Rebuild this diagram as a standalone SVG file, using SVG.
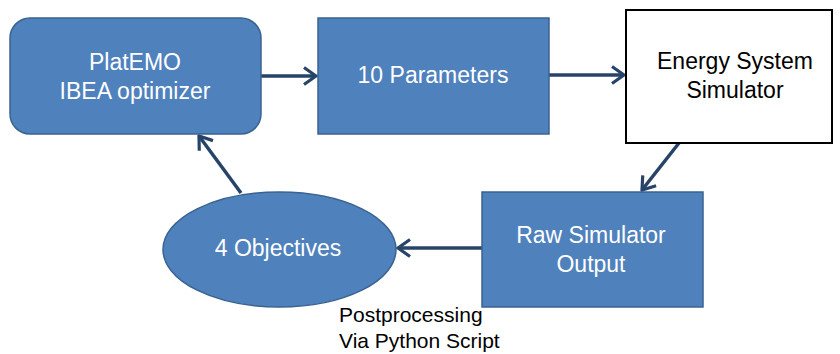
<svg xmlns="http://www.w3.org/2000/svg" width="840" height="354" viewBox="0 0 840 354">
  <style>
    .node { fill: #4F81BD; stroke: #3A6390; stroke-width: 1.5; }
    .plain { fill: #FFFFFF; stroke: #000000; stroke-width: 2; }
    .wt { font-family: "Liberation Sans", Arial, sans-serif; font-size: 23px; fill: #FFFFFF; text-anchor: middle; }
    .bt { font-family: "Liberation Sans", Arial, sans-serif; font-size: 23px; fill: #000000; text-anchor: middle; }
    .note { font-family: "Liberation Sans", Arial, sans-serif; font-size: 21px; fill: #000000; }
    .link { fill: none; stroke: #274468; stroke-width: 3.5; marker-end: url(#head); }
  </style>
  <defs>
    <marker id="head" viewBox="0 0 16 20" refX="14" refY="10" markerWidth="16" markerHeight="20" markerUnits="userSpaceOnUse" orient="auto">
      <path d="M2,1.5 L14,10 L2,18.5" fill="none" stroke="#274468" stroke-width="3.2" stroke-linejoin="miter"/>
    </marker>
  </defs>
  <rect width="840" height="354" fill="#FFFFFF"/>

  <g id="connectors">
    <line class="link" x1="261" y1="76" x2="316" y2="76"/>
    <line class="link" x1="549" y1="75" x2="624" y2="75"/>
    <line class="link" x1="679" y1="143" x2="642" y2="190"/>
    <line class="link" x1="482" y1="248" x2="398" y2="248"/>
    <line class="link" x1="241" y1="193" x2="199" y2="136"/>
  </g>

  <g id="optimizer">
    <rect class="node" x="10" y="18" width="251" height="116" rx="20" ry="20"/>
    <text class="wt" x="135" y="70">PlatEMO</text>
    <text class="wt" x="135" y="99">IBEA optimizer</text>
  </g>

  <g id="parameters">
    <rect class="node" x="318" y="18" width="231" height="116"/>
    <text class="wt" x="433" y="83">10 Parameters</text>
  </g>

  <g id="simulator">
    <rect class="plain" x="626" y="10" width="206" height="133"/>
    <text class="bt" x="735" y="69">Energy System</text>
    <text class="bt" x="735" y="98">Simulator</text>
  </g>

  <g id="raw-output">
    <rect class="node" x="482" y="192" width="221" height="115"/>
    <text class="wt" x="591" y="243">Raw Simulator</text>
    <text class="wt" x="591" y="272">Output</text>
  </g>

  <g id="objectives">
    <ellipse class="node" cx="279.5" cy="249.5" rx="116.5" ry="57.5"/>
    <text class="wt" x="278" y="256">4 Objectives</text>
  </g>

  <g id="postprocessing-note">
    <text class="note" x="339" y="322">Postprocessing</text>
    <text class="note" x="339" y="348">Via Python Script</text>
  </g>
</svg>
